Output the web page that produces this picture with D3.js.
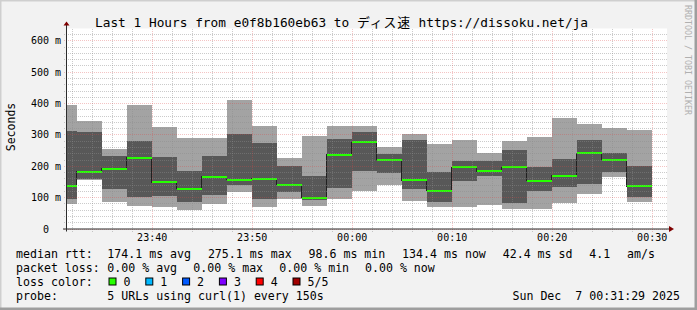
<!DOCTYPE html>
<html>
<head>
<meta charset="utf-8">
<script src="https://cdn.jsdelivr.net/npm/d3@7"></script>
<style>
  body { margin: 0; background: #f2f2f2; }
  svg text { font-family: "DejaVu Sans Mono", "Noto Sans CJK JP", monospace; white-space: pre; }
</style>
</head>
<body>
<svg width="697" height="310"></svg>
<script>
const titleParts = ["Last 1 Hours from e0f8b160eb63 to ", "ディス速", " https://dissoku.net/ja"];

// end time of every 150 s step shown
const barEnds = [
  "2025-12-06 23:32:30", "2025-12-06 23:35:00", "2025-12-06 23:37:30", "2025-12-06 23:40:00",
  "2025-12-06 23:42:30", "2025-12-06 23:45:00", "2025-12-06 23:47:30", "2025-12-06 23:50:00",
  "2025-12-06 23:52:30", "2025-12-06 23:55:00", "2025-12-06 23:57:30", "2025-12-07 00:00:00",
  "2025-12-07 00:02:30", "2025-12-07 00:05:00", "2025-12-07 00:07:30", "2025-12-07 00:10:00",
  "2025-12-07 00:12:30", "2025-12-07 00:15:00", "2025-12-07 00:17:30", "2025-12-07 00:20:00",
  "2025-12-07 00:22:30", "2025-12-07 00:25:00", "2025-12-07 00:27:30", "2025-12-07 00:30:00"
];

// rtt in ms: min, 2nd ping, median, 4th ping, max
const minRtt = [79, 156, 85, 73, 67, 60, 78, 115, 70, 93, 73, 94, 121, 139, 88, 67, 69, 75, 62, 62, 81, 110, 163, 86];
const lowRtt = [93, 157, 126, 101, 104, 86, 107, 139, 94, 117, 91, 130, 184, 178, 126, 83, 150, 166, 81, 121, 133, 142, 181, 99];
const medRtt = [134, 181, 191, 226, 147, 127, 165, 156, 159, 139, 98.6, 236, 275.1, 217, 154, 121, 195, 182, 195, 153, 168, 240, 219, 134.4];
const highRtt = [312, 307, 232, 280, 229, 184, 232, 302, 274, 200, 168, 286, 307, 237, 283, 179, 214, 214, 251, 197, 222, 283, 242, 200];
const maxRtt = [395, 344, 254, 395, 325, 290, 290, 411, 328, 226, 296, 328, 328, 260, 300, 270, 283, 242, 280, 293, 354, 334, 322, 315];

const rttStats = ["174.1 ms avg", "275.1 ms max", "98.6 ms min", "134.4 ms now", "42.4 ms sd", "4.1", "am/s"];
const lossStats = ["0.00 % avg", "0.00 % max", "0.00 % min", "0.00 % now"];
const lossLabels = ["0", "1", "2", "3", "4", "5/5"];
const lossColors = ["#26ff00", "#00b8ff", "#0059ff", "#7e00ff", "#ff0000", "#a10000"];
const probeText = "5 URLs using curl(1) every 150s";
const stamp = "Sun Dec  7 00:31:29 2025";

const svg = d3.select("svg");
const W = 697, H = 310;
const plotL = 67, plotR = 667, plotT = 28.5, plotB = 228.5;
const step = 150 * 1000;

const parse = d3.timeParse("%Y-%m-%d %H:%M:%S");
const ends = barEnds.map(parse);
const data = ends.map((e, i) => ({
  start: new Date(e - step), end: e,
  min: minRtt[i], low: lowRtt[i], med: medRtt[i], high: highRtt[i], max: maxRtt[i]
}));

const x = d3.scaleTime()
  .domain([parse("2025-12-06 23:31:32"), parse("2025-12-07 00:31:32")])
  .range([plotL, plotR]);
const y = d3.scaleLinear().domain([0, 638]).range([plotB, plotT]);

// frame
svg.append("rect").attr("width", W).attr("height", H).attr("fill", "#f2f2f2");
svg.append("path").attr("d", `M0,${H} V0 H${W}`).attr("stroke", "#cfcfcf").attr("stroke-width", 3).attr("fill", "none");
svg.append("path").attr("d", `M0,${H - 1} H${W - 1} V0`).attr("stroke", "#9e9e9e").attr("stroke-width", 3).attr("fill", "none");

svg.append("rect")
  .attr("x", plotL).attr("y", plotT)
  .attr("width", plotR - plotL).attr("height", plotB - plotT)
  .attr("fill", "#ffffff");

svg.append("clipPath").attr("id", "plot")
  .append("rect").attr("x", plotL).attr("y", plotT)
  .attr("width", plotR - plotL).attr("height", plotB - plotT);

const plot = svg.append("g").attr("clip-path", "url(#plot)").attr("shape-rendering", "crispEdges");

plot.selectAll("rect.outer").data(data).join("rect")
  .attr("class", "outer")
  .attr("x", d => x(d.start)).attr("width", d => x(d.end) - x(d.start))
  .attr("y", d => y(d.max)).attr("height", d => y(d.min) - y(d.max))
  .attr("fill", "#a3a3a3");

plot.selectAll("rect.inner").data(data).join("rect")
  .attr("class", "inner")
  .attr("x", d => x(d.start)).attr("width", d => x(d.end) - x(d.start))
  .attr("y", d => y(d.high)).attr("height", d => y(d.low) - y(d.high))
  .attr("fill", "#585858");

// median: thin dark step line, loss-coloured segments on top
const stepPts = data.map(d => [x(d.start), y(d.med)]);
stepPts.push([x(data[data.length - 1].end), y(data[data.length - 1].med)]);
plot.append("path")
  .attr("d", d3.line().curve(d3.curveStepAfter)(stepPts))
  .attr("fill", "none").attr("stroke", "#202020").attr("stroke-width", 1);

plot.selectAll("line.med").data(data).join("line")
  .attr("class", "med")
  .attr("x1", d => x(d.start)).attr("x2", d => x(d.end))
  .attr("y1", d => y(d.med)).attr("y2", d => y(d.med))
  .attr("stroke", lossColors[0]).attr("stroke-width", 2);

// grid on top of the smoke
const minorY = d3.range(0, 638, 20).filter(v => v % 100 !== 0);
const majorY = d3.range(0, 638, 100);
const minorX = x.ticks(d3.timeMinute.every(2)).filter(t => t.getMinutes() % 10 !== 0);
const majorX = x.ticks(d3.timeMinute.every(10));

function grid(g, color) {
  g.attr("shape-rendering", "crispEdges");
  g.select(".domain").remove();
  g.selectAll("text").remove();
  g.selectAll("line").attr("stroke", color).attr("stroke-dasharray", "1,1");
}

svg.append("g").attr("transform", `translate(${plotL - 3},0)`)
  .call(d3.axisLeft(y).tickValues(minorY).tickSize(-(plotR - plotL + 3)).tickFormat(""))
  .call(grid, "rgba(140,140,140,0.45)");
svg.append("g").attr("transform", `translate(0,${plotB + 3})`)
  .call(d3.axisBottom(x).tickValues(minorX).tickSize(-(plotB - plotT + 3)).tickFormat(""))
  .call(grid, "rgba(140,140,140,0.45)");
svg.append("g").attr("transform", `translate(${plotL - 3},0)`)
  .call(d3.axisLeft(y).tickValues(majorY).tickSize(-(plotR - plotL + 3)).tickFormat(""))
  .call(grid, "rgba(222,70,70,0.32)");
svg.append("g").attr("transform", `translate(0,${plotB + 3})`)
  .call(d3.axisBottom(x).tickValues(majorX).tickSize(-(plotB - plotT + 3)).tickFormat(""))
  .call(grid, "rgba(222,70,70,0.32)");

// axes lines and arrows
svg.append("line").attr("x1", plotL - 0.5).attr("x2", plotL - 0.5).attr("y1", plotB + 3).attr("y2", plotT - 4)
  .attr("stroke", "#2c2c2c").attr("stroke-width", 1);
svg.append("line").attr("x1", plotL - 4).attr("x2", plotR + 3).attr("y1", plotB + 0.5).attr("y2", plotB + 0.5)
  .attr("stroke", "#2c2c2c").attr("stroke-width", 1);
svg.append("path").attr("d", `M${plotL - 3.5},${plotT - 3} L${plotL + 2.5},${plotT - 3} L${plotL - 0.5},${plotT - 7} Z`).attr("fill", "#7f0000");
svg.append("path").attr("d", `M${plotR + 2},${plotB - 2.5} L${plotR + 2},${plotB + 3.5} L${plotR + 7},${plotB + 0.5} Z`).attr("fill", "#7f0000");

// tick labels
const yAxis = svg.append("g").attr("transform", `translate(${plotL - 6},0)`)
  .call(d3.axisLeft(y).tickValues(majorY).tickSize(0).tickPadding(0)
    .tickFormat(v => v === 0 ? "0  " : `${v} m`));
yAxis.select(".domain").remove();
yAxis.selectAll("text").attr("font-size", 10).attr("fill", "#000")
  .attr("font-family", "DejaVu Sans Mono").attr("dy", "0.35em");

const xAxis = svg.append("g").attr("transform", `translate(0,${plotB})`)
  .call(d3.axisBottom(x).tickValues(majorX).tickSize(0).tickPadding(4).tickFormat(d3.timeFormat("%H:%M")));
xAxis.select(".domain").remove();
xAxis.selectAll("text").attr("font-size", 10).attr("fill", "#000")
  .attr("font-family", "DejaVu Sans Mono").attr("y", 12).attr("dy", 0);

// title and side texts
const titleEl = svg.append("text").attr("x", 95).attr("y", 26.5)
  .attr("font-size", 12.8).attr("fill", "#000");
titleEl.append("tspan").text(titleParts[0]);
titleEl.append("tspan").attr("font-family", "Noto Sans CJK JP").attr("letter-spacing", 0.9).text(titleParts[1]);
titleEl.append("tspan").text(titleParts[2]);

svg.append("text").attr("transform", `translate(15,127) rotate(-90)`).attr("text-anchor", "middle")
  .attr("font-size", 11.5).attr("fill", "#000").text("Seconds");

svg.append("text").attr("transform", "translate(685,5) rotate(90)")
  .attr("font-size", 8.3).attr("fill", "#b0b0b0").text("RRDTOOL / TOBI OETIKER");

// legend
const fs = 11.6;
const rows = [257.5, 271.5, 285.5, 299.5];
function put(tx, ty, str, anchor) {
  svg.append("text").attr("x", tx).attr("y", ty).attr("font-size", fs).attr("fill", "#000")
    .attr("text-anchor", anchor || "start").text(str);
}
put(16, rows[0], "median rtt:");
[107.3, 207.9, 308.5, 402.1, 502.7, 589.3, 627].forEach((px, i) => put(px, rows[0], rttStats[i]));
put(16, rows[1], "packet loss:");
[107.3, 193.3, 279.3, 365].forEach((px, i) => put(px, rows[1], lossStats[i]));
put(16, rows[2], "loss color:");
lossLabels.forEach((lab, i) => {
  const bx = 108.5 + i * 36.8;
  svg.append("rect").attr("x", bx + 0.5).attr("y", rows[2] - 7.5).attr("width", 7).attr("height", 7)
    .attr("fill", lossColors[i]).attr("stroke", "#000").attr("stroke-width", 1);
  put(bx + 15, rows[2], lab);
});
put(16, rows[3], "probe:");
put(107.3, rows[3], probeText);
put(680, rows[3], stamp, "end");
</script>
</body>
</html>
